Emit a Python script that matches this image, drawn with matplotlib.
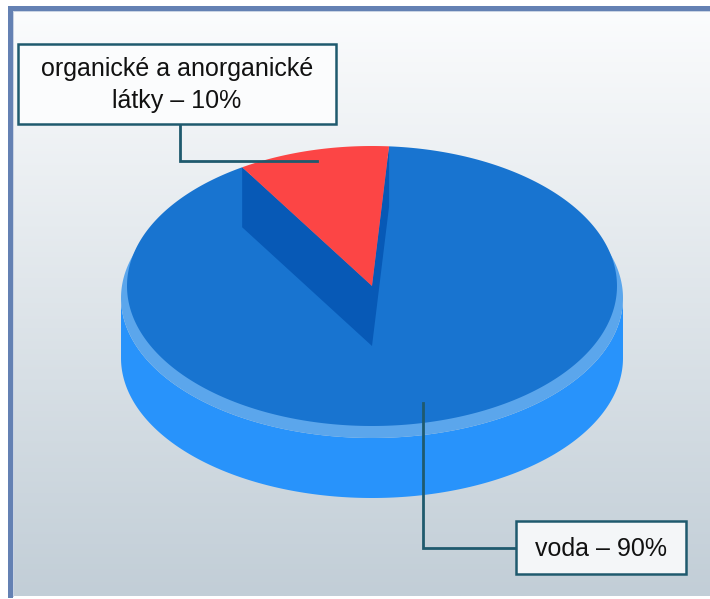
import numpy as np
import matplotlib
matplotlib.use("Agg")
import matplotlib.pyplot as plt
from matplotlib.patches import Polygon, Rectangle

# ---- data ----
categories = ["organické a anorganické\nlátky", "voda"]
values = [10, 90]
label_texts = ["organické a anorganické\nlátky – 10%", "voda – 90%"]

# ---- style ----
W, H = 710, 599
start_angle = 86.0          # degrees, counter-clockwise start of first slice
cx, cy = 372, 286           # top face centre (pixels)
a_top, b_top = 245, 140
band_dy, a_band = 12, 251
depth = 60                  # thickness of the side below the band
wall_depth = 60
col_top = "#1874d0"
col_side = "#2893fb"
col_band = "#5ba6ec"
col_wall = "#0759b6"
col_red = "#fc4545"
col_line = "#1f5a6e"
slice_colors = [col_red, col_top]
box_pos = [(18, 44, 336, 124), (516, 521, 686, 574)]   # x0, y0, x1, y1
anchor_frac = [0.92, 0.86]

plt.rcParams['font.family'] = ['Liberation Sans', 'DejaVu Sans']

fig = plt.figure(figsize=(W / 100, H / 100), dpi=100)
ax = fig.add_axes([0, 0, 1, 1])
ax.set_xlim(0, W)
ax.set_ylim(H, 0)
ax.axis("off")

# background gradient panel
grad = np.linspace(0, 1, 256)[:, None]
top_rgb = np.array([0xfb, 0xfc, 0xfd]) / 255
bot_rgb = np.array([0xc2, 0xce, 0xd7]) / 255
img = top_rgb[None, None, :] * (1 - grad[..., None]) + bot_rgb[None, None, :] * grad[..., None]
ax.imshow(img, extent=[12, W, 596, 10], aspect="auto", zorder=0)
# frame border (left + top)
ax.add_patch(Rectangle((8, 6), 4.5, 592, color="#6481b3", zorder=1, lw=0))
ax.add_patch(Rectangle((8, 6), W - 8, 4.5, color="#6481b3", zorder=1, lw=0))
ax.add_patch(Rectangle((12.5, 10.5), 1.2, 586, color="#c9d3e3", zorder=1, lw=0))
ax.add_patch(Rectangle((12.5, 10.5), W, 1.2, color="#c9d3e3", zorder=1, lw=0))


def ell(xc, yc, a, b, t_deg):
    t = np.radians(t_deg)
    return np.column_stack([xc + a * np.cos(t), yc - b * np.sin(t)])


# slice angles from data
fr = np.array(values, dtype=float) / np.sum(values)
spans = fr * 360.0
starts = start_angle + np.concatenate([[0], np.cumsum(spans)[:-1]])
ends = starts + spans

# side of the pie (front half)
band_cy = cy + band_dy
bot_cy = band_cy + depth
t_front = np.linspace(180, 360, 200)
side = np.vstack([ell(cx, band_cy, a_band, b_top, t_front),
                  ell(cx, bot_cy, a_band, b_top, t_front[::-1])])
ax.add_patch(Polygon(side, closed=True, color=col_side, lw=0, zorder=2))
# bevel band
ax.add_patch(Polygon(ell(cx, band_cy, a_band, b_top, np.linspace(0, 360, 400)),
                     closed=True, color=col_band, lw=0, zorder=3))

# top faces: big slice first, then walls and small slice
order = np.argsort(-np.array(values))
for i in order:
    ts = np.linspace(starts[i], ends[i], 300)
    pts = np.vstack([[cx, cy], ell(cx, cy, a_top, b_top, ts)])
    if i == order[0]:
        ax.add_patch(Polygon(pts, closed=True, color=slice_colors[i], lw=0, zorder=4))
    else:
        # cut walls of the small slice
        for edge in (starts[i], ends[i]):
            p = ell(cx, cy, a_top, b_top, [edge])[0]
            quad = [[cx, cy], p, [p[0], p[1] + wall_depth], [cx, cy + wall_depth]]
            ax.add_patch(Polygon(quad, closed=True, color=col_wall, lw=0, zorder=5))
        ax.add_patch(Polygon(pts, closed=True, color=slice_colors[i], lw=0, zorder=6))

# labels with elbow leader lines
for i in range(len(values)):
    mid = (starts[i] + ends[i]) / 2
    anc = ell(cx, cy, a_top * anchor_frac[i], b_top * anchor_frac[i], [mid])[0]
    x0, y0, x1, y1 = box_pos[i]
    if i == 0:
        ex = 180
        ax.plot([anc[0], ex, ex], [anc[1], anc[1], y1], color=col_line, lw=2,
                solid_joinstyle="miter", zorder=7)
        face = "#fbfcfd"
    else:
        ym = (y0 + y1) / 2
        ax.plot([anc[0], anc[0], x0], [anc[1], ym, ym], color=col_line, lw=2,
                solid_joinstyle="miter", zorder=7)
        face = "#f4f6f8"
    ax.add_patch(Rectangle((x0, y0), x1 - x0, y1 - y0, facecolor=face,
                           edgecolor=col_line, lw=1.8, zorder=8))
    ax.text((x0 + x1) / 2, (y0 + y1) / 2 + 1, label_texts[i], ha="center", va="center",
            multialignment="center", fontsize=18, color="#111111",
            linespacing=1.45, zorder=9)

fig.savefig("out.png", dpi=100)
